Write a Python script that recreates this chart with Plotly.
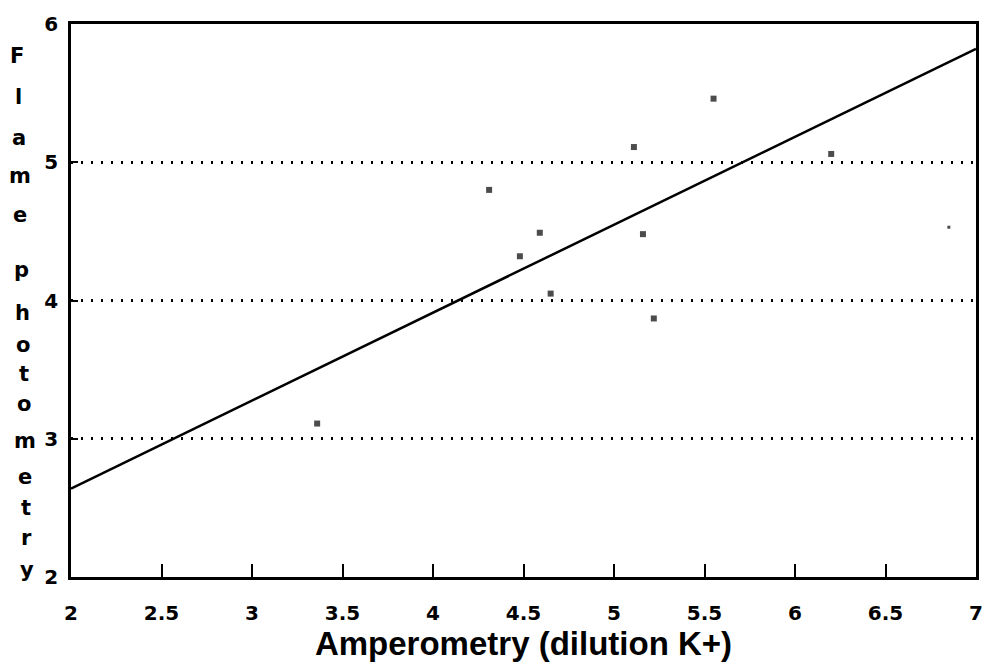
import plotly.graph_objects as go

# Potassium measured by two methods on the same samples
amperometry = [5.55, 5.11, 6.20, 4.31, 4.59, 5.16, 4.48, 4.65, 5.22, 3.36, 6.85]
flame_photometry = [5.46, 5.11, 5.06, 4.80, 4.49, 4.48, 4.32, 4.05, 3.87, 3.11, 4.53]
point_sizes = [6, 6, 6, 6, 6, 6, 6, 6, 6, 6, 3]

# Regression line end points
fit_x = [2, 7]
fit_y = [2.64, 5.82]

x_ticks = [2, 2.5, 3, 3.5, 4, 4.5, 5, 5.5, 6, 6.5, 7]
x_tick_labels = ["2", "2.5", "3", "3.5", "4", "4.5", "5", "5.5", "6", "6.5", "7"]
y_ticks = [2, 3, 4, 5, 6]
y_tick_labels = ["2", "3", "4", "5", "6"]

x_title = "Amperometry (dilution K+)"
y_title = "Flame photometry"

W, H = 995, 665
M_L, M_R, M_T, M_B = 71, 13, 12, 88
PLOT_W = W - M_L - M_R
PLOT_H = H - M_T - M_B


def px_to_paper_x(px):
    return (px - M_L) / PLOT_W


def px_to_paper_y(py):
    return (H - M_B - py) / PLOT_H


def bold(labels):
    return [f"<b>{t}</b>" for t in labels]


fig = go.Figure()

fig.add_trace(go.Scatter(
    x=fit_x, y=fit_y, mode="lines",
    line=dict(color="black", width=2.5),
    showlegend=False, hoverinfo="skip",
))

fig.add_trace(go.Scatter(
    x=amperometry, y=flame_photometry, mode="markers",
    marker=dict(symbol="square", size=point_sizes, color="black",
                line=dict(width=0)),
    showlegend=False,
))

# Vertical axis title, one letter per row
row_centres = [45, 87, 128, 167, 207, None, 263, 307, 340, 370, 400, 438, 475, 507, 537, 570]
for ch, row in zip(y_title, row_centres):
    if ch == " " or row is None:
        continue
    col = 17 + 10 * (row - 45) / 525
    fig.add_annotation(
        text=f"<b>{ch}</b>", x=px_to_paper_x(col), y=px_to_paper_y(row),
        xref="paper", yref="paper", xanchor="center", yanchor="middle",
        showarrow=False,
        font=dict(family="DejaVu Sans", size=21, color="black"),
    )

tick_font = dict(family="DejaVu Sans", size=20, color="black")

fig.update_xaxes(
    range=[2, 7], tickmode="array", tickvals=x_ticks, ticktext=bold(x_tick_labels),
    ticks="inside", ticklen=13, tickwidth=2, tickcolor="black",
    showline=True, linecolor="black", linewidth=2.5, mirror=True,
    showgrid=False, zeroline=False,
    tickfont=tick_font, ticklabelstandoff=16,
    title=dict(text=f"<b>{x_title}</b>", standoff=5,
               font=dict(family="Liberation Sans", size=33, color="black")),
)

fig.update_yaxes(
    range=[2, 6], tickmode="array", tickvals=y_ticks, ticktext=bold(y_tick_labels),
    ticks="inside", ticklen=7, tickwidth=2, tickcolor="black",
    showline=True, linecolor="black", linewidth=2.5, mirror=True,
    showgrid=True, gridcolor="black", gridwidth=2.5, griddash="2px,8px",
    zeroline=False,
    tickfont=tick_font, ticklabelstandoff=6,
)

fig.update_layout(
    width=W, height=H,
    margin=dict(l=M_L, r=M_R, t=M_T, b=M_B),
    paper_bgcolor="white", plot_bgcolor="white",
)

fig.write_html("out.html")
